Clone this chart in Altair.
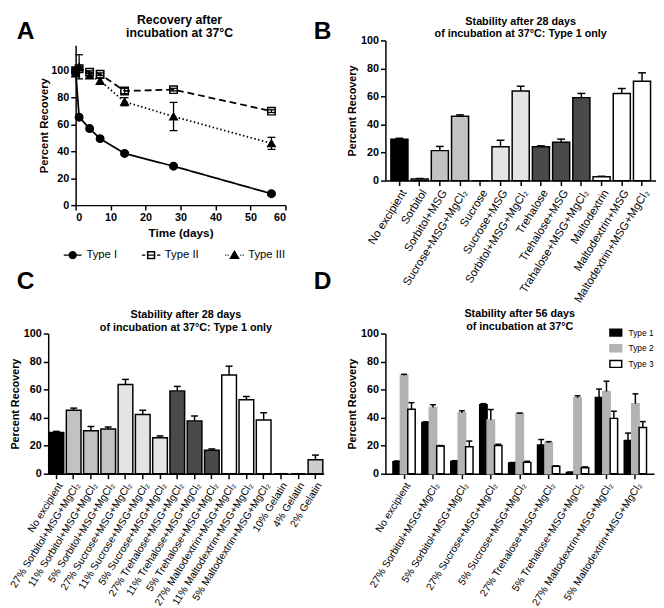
import altair as alt
import pandas as pd

FONT = "Liberation Sans"

# ---------------- Panel A data ----------------
days = [0, 1, 4, 7, 14, 28, 56]
series_a = ["Type I", "Type II", "Type III"]
type1_mean = [100, 65.5, 57, 49.5, 38.5, 29, 8.5]
type1_err = [1, 1, 1, 1, 1, 1, 1]
type2_mean = [100, 101.5, 99, 97.5, 85, 86, 70]
type2_err = [1.5, 1.5, 1, 1, 2, 1, 1]
type3_mean = [98, 103, 96.5, 92.5, 77, 66, 46]
type3_err = [2, 9, 2, 2, 3, 10.5, 4.5]

# ---------------- Panel B data ----------------
b_labels = ["No excipient", "Sorbitol", "Sorbitol+MSG", "Sucrose+MSG+MgCl₂", "Sucrose",
            "Sucrose+MSG", "Sorbitol+MSG+MgCl₂", "Trehalose", "Trehalose+MSG",
            "Trahalose+MSG+MgCl₂", "Maltodextrin", "Maltodextrin+MSG", "Maltodextrin+MSG+MgCl₂"]
b_values = [29.5, 1.2, 21.4, 45.9, 0, 24.2, 64, 24.2, 27.3, 59.2, 2.8, 62.2, 70.9]
b_errors = [0.7, 0.3, 3, 1, 0, 4.6, 3.3, 0.6, 2.3, 3, 0.3, 3.5, 6]
b_group = ["None", "Sorbitol", "Sorbitol", "Sorbitol", "Sucrose", "Sucrose", "Sucrose",
           "Trehalose", "Trehalose", "Trehalose", "Maltodextrin", "Maltodextrin", "Maltodextrin"]

# ---------------- Panel C data ----------------
c_labels = ["No excipient", "27% Sorbitol+MSG+MgCl₂", "11% Sorbitol+MSG+MgCl₂", "5% Sorbitol+MSG+MgCl₂",
            "27% Sucrose+MSG+MgCl₂", "11% Sucrose+MSG+MgCl₂", "5% Sucrose+MSG+MgCl₂",
            "27% Trehalose+MSG+MgCl₂", "11% Trehalose+MSG+MgCl₂", "5% Trehalose+MSG+MgCl₂",
            "27% Maltodextrin+MSG+MgCl₂", "11% Maltodextrin+MSG+MgCl₂", "5% Maltodextrin+MSG+MgCl₂",
            "10% Gelatin", "4% Gelatin", "2% Gelatin"]
c_values = [29.5, 45.3, 30.7, 31.9, 63.7, 42.3, 25.6, 59.1, 37.7, 16.7, 70.5, 52.8, 38.4, 0, 0, 10]
c_errors = [0.7, 1.5, 3, 1.4, 3.6, 3, 1.4, 3.2, 3.5, 1, 6.2, 2.3, 5.1, 0, 0, 3.3]
c_group = ["None", "Sorbitol", "Sorbitol", "Sorbitol", "Sucrose", "Sucrose", "Sucrose",
           "Trehalose", "Trehalose", "Trehalose", "Maltodextrin", "Maltodextrin", "Maltodextrin",
           "Gelatin", "Gelatin", "Gelatin"]

# ---------------- Panel D data ----------------
d_labels = ["No excipient", "27% Sorbitol+MSG+MgCl₂", "5% Sorbitol+MSG+MgCl₂",
            "27% Sucrose+MSG+MgCl₂", "5% Sucrose+MSG+MgCl₂", "27% Trehalose+MSG+MgCl₂",
            "5% Trehalose+MSG+MgCl₂", "27% Maltodextrin+MSG+MgCl₂", "5% Maltodextrin+MSG+MgCl₂"]
d_types = ["Type 1", "Type 2", "Type 3"]
d_type1 = [8.6, 36.5, 8.8, 49.3, 7.7, 20.5, 0.9, 54.4, 23.7]
d_type1_err = [0.5, 0.5, 0.5, 0.7, 0.3, 3.9, 0.3, 6, 5.3]
d_type2 = [70.2, 47.2, 43.5, 38.4, 43, 22.1, 54.2, 58.6, 50]
d_type2_err = [0.7, 2, 1.4, 7.4, 0.3, 0.8, 1.4, 7.4, 7]
d_type3 = [46, 19.8, 19.3, 20.2, 8.1, 5.3, 4.2, 39.5, 33]
d_type3_err = [4.7, 0.3, 4, 0.8, 0.8, 0.3, 0.7, 5.1, 4.2]

panel_letters = ["A", "B", "C", "D"]

groups = ["None", "Sorbitol", "Sucrose", "Trehalose", "Maltodextrin", "Gelatin"]
group_fill = ["#000000", "#c2c2c2", "#e4e4e4", "#4a4a4a", "#ffffff", "#cdcdcd"]

# ---------------- tables ----------------
rows = []
for name, means, errs in zip(series_a, [type1_mean, type2_mean, type3_mean],
                             [type1_err, type2_err, type3_err]):
    for d, m, e in zip(days, means, errs):
        rows.append({"series": name, "day": d, "mean": m, "lo": m - e, "hi": m + e})
dfA = pd.DataFrame(rows)

dfB = pd.DataFrame({"label": b_labels, "value": b_values, "err": b_errors, "group": b_group})
dfB["top"] = dfB["value"] + dfB["err"]
dfC = pd.DataFrame({"label": c_labels, "value": c_values, "err": c_errors, "group": c_group})
dfC["top"] = dfC["value"] + dfC["err"]

rows = []
for t, vals, errs in zip(d_types, [d_type1, d_type2, d_type3], [d_type1_err, d_type2_err, d_type3_err]):
    for lab, v, e in zip(d_labels, vals, errs):
        rows.append({"label": lab, "type": t, "value": v, "err": e, "top": v + e})
dfD = pd.DataFrame(rows)

# ---------------- Panel A ----------------
A_W, A_H = 242, 168
xA_scale = alt.Scale(domain=[0, 60], range=[28, 242], nice=False)
yA_scale = alt.Scale(domain=[0, 119], range=[168, 5], nice=False)
xA_axis = alt.Axis(values=[0, 10, 20, 30, 40, 50, 60], title="Time (days)", titleFontSize=12,
                   titlePadding=5)
yA_axis = alt.Axis(values=[0, 20, 40, 60, 80, 100], title="Percent Recovery", offset=-28,
                   titlePadding=1, titleFontSize=11.5)


def xA():
    return alt.X("day:Q", scale=xA_scale, axis=xA_axis)


def yA(field):
    return alt.Y(field, scale=yA_scale, axis=yA_axis)


baseA = alt.Chart(dfA)
linesA = baseA.mark_line(color="black", strokeWidth=1.8).encode(
    x=xA(), y=yA("mean:Q"), detail="series:N",
    strokeDash=alt.StrokeDash("series:N", scale=alt.Scale(domain=series_a, range=[[1, 0], [7, 4], [1.5, 2.5]]),
                              legend=None),
)
errA = baseA.mark_rule(color="black", strokeWidth=1.3).encode(x=xA(), y=yA("lo:Q"), y2="hi:Q")
capLoA = baseA.mark_tick(orient="horizontal", size=8, thickness=1.3, color="black", opacity=1).encode(
    x=xA(), y=yA("lo:Q"))
capHiA = baseA.mark_tick(orient="horizontal", size=8, thickness=1.3, color="black", opacity=1).encode(
    x=xA(), y=yA("hi:Q"))

point_shapes = ["circle", "square", "triangle-up"]
point_fills = ["black", "transparent", "black"]
point_layers = []
for name, shp, fil in zip(series_a, point_shapes, point_fills):
    point_layers.append(
        baseA.transform_filter(alt.datum.series == name).mark_point(
            shape=shp, fill=fil, opacity=1, fillOpacity=1, stroke="black", strokeWidth=1.5, size=58
        ).encode(x=xA(), y=yA("mean:Q"))
    )

# legend symbols: a short line segment (solid / dashed / dotted) with the marker in its middle
legend_paths = [
    "M-1.3,0H1.3M0.5,0L0.433,0.25L0.25,0.433L0,0.5L-0.25,0.433L-0.433,0.25L-0.5,0L-0.433,-0.25"
    "L-0.25,-0.433L0,-0.5L0.25,-0.433L0.433,-0.25Z",
    "M-1.35,0H-0.85M-0.5,0H0.5M0.85,0H1.35M-0.5,-0.5H0.5V0.5H-0.5Z",
    "M-1.35,0H-1.2M-1.0,0H-0.85M0.85,0H1.0M1.2,0H1.35M0,-0.55L0.58,0.45L-0.58,0.45Z",
]
legend_x = [17, 97, 182]

# one single-entry legend per series (same mechanism as the legend of panel D);
# the layers carry no marks, only the legend entries
legend_layers = []
for i, name in enumerate(series_a):
    lg = alt.Legend(orient="none", legendX=legend_x[i], legendY=211, title=None, labelFont=FONT,
                    labelFontSize=11.5, labelOffset=6, symbolType=legend_paths[i], symbolSize=196,
                    symbolStrokeWidth=1.5, padding=0, labelColor="black")
    legend_layers.append(
        baseA.transform_filter("false").mark_point(opacity=1, strokeWidth=1.5).encode(
            x=xA(), y=yA("mean:Q"),
            fill=alt.Fill("series:N", scale=alt.Scale(domain=[name], range=[point_fills[i]]), legend=lg),
            stroke=alt.Stroke("series:N", scale=alt.Scale(domain=[name], range=["black"]), legend=lg),
        )
    )


def letter(i, x, y):
    return alt.Chart(pd.DataFrame({"t": [panel_letters[i]]})).mark_text(
        font=FONT, fontSize=25, fontWeight="bold", align="left", baseline="alphabetic", color="black"
    ).encode(text="t:N", x=alt.value(x), y=alt.value(y))


chartA = alt.layer(
    linesA, errA, capLoA, capHiA, *point_layers, *legend_layers,
    letter(0, -32, -1), letter(1, 271, -1), letter(2, -32, 254), letter(3, 271, 254),
).resolve_scale(fill="independent", stroke="independent").resolve_legend(
    fill="independent", stroke="independent"
).properties(
    width=A_W, height=A_H,
    title=alt.TitleParams(["Recovery after", "incubation at 37°C"], fontSize=12.5, lineHeight=13.5, dx=13,
                          dy=22, offset=2, anchor="middle", frame="group"),
)

# ---------------- bar helpers ----------------
yBar_axis = alt.Axis(values=[0, 20, 40, 60, 80, 100], title="Percent Recovery", titlePadding=3)
yBar_scale = alt.Scale(domain=[0, 100], nice=False)


def yBar(field):
    return alt.Y(field, scale=yBar_scale, axis=yBar_axis)


def cat_axis(size=10.5):
    return alt.Axis(title=None, labelAngle=-58, labelAlign="right", labelBaseline="top",
                    labelFontWeight="normal", labelFontSize=size, labelPadding=2)


fill_scale = alt.Scale(domain=groups, range=group_fill)


def simple_bars(df, labels, pin, pout, cap, W, title, label_size):
    xe = alt.X("label:N", sort=labels, scale=alt.Scale(paddingInner=pin, paddingOuter=pout),
               axis=cat_axis(label_size))
    base = alt.Chart(df)
    bars = base.mark_bar(stroke="black", strokeWidth=1.5).encode(
        x=xe, y=yBar("value:Q"), fill=alt.Fill("group:N", scale=fill_scale, legend=None))
    err = base.transform_filter("datum.err > 0").mark_rule(color="black", strokeWidth=1.5).encode(
        x=xe, y=yBar("value:Q"), y2="top:Q")
    caps = base.transform_filter("datum.err > 0").mark_tick(
        orient="horizontal", size=cap, thickness=1.5, color="black", opacity=1).encode(x=xe, y=yBar("top:Q"))
    return alt.layer(bars, err, caps).properties(
        width=W, height=143, title=alt.TitleParams(title, offset=3, dy=8, anchor="middle", frame="group"))


chartB = simple_bars(dfB, b_labels, 0.155, 0.27, 8, 276,
                     ["Stability after 28 days", "of incubation at 37°C: Type 1 only"], 11.5)
chartC = simple_bars(dfC, c_labels, 0.15, 0.05, 7, 281,
                     ["Stability after 28 days", "of incubation at 37°C: Type 1 only"], 10.5)

# ---------------- Panel D ----------------
xD = alt.X("label:N", sort=d_labels, scale=alt.Scale(paddingInner=0.23, paddingOuter=0.26), axis=cat_axis())
xoD = alt.XOffset("type:N", sort=d_types, scale=alt.Scale(paddingInner=0, paddingOuter=0))
legD = alt.Legend(orient="none", legendX=229, legendY=-7, title=None, labelFont=FONT, labelFontSize=8.5,
                  labelOffset=7, rowPadding=2, symbolType="M-1.2,-0.7H1.2V0.7H-1.2Z", symbolSize=100,
                  symbolStrokeWidth=1.5, padding=0, labelColor="black")
baseD = alt.Chart(dfD)
barsD = baseD.mark_bar(strokeWidth=1.5).encode(
    x=xD, xOffset=xoD, y=yBar("value:Q"),
    fill=alt.Fill("type:N", scale=alt.Scale(domain=d_types, range=["black", "#b3b3b3", "white"]), legend=legD),
    stroke=alt.Stroke("type:N", scale=alt.Scale(domain=d_types, range=["black", "#b3b3b3", "black"]),
                      legend=legD),
)
errD = baseD.mark_rule(color="black", strokeWidth=1.5).encode(x=xD, xOffset=xoD, y=yBar("value:Q"), y2="top:Q")
capD = baseD.mark_tick(orient="horizontal", size=6, thickness=1.5, color="black", opacity=1).encode(
    x=xD, xOffset=xoD, y=yBar("top:Q"))
chartD = alt.layer(barsD, errD, capD).properties(
    width=274, height=143,
    title=alt.TitleParams(["Stability after 56 days", "of incubation at 37°C"], offset=3, dy=8, anchor="middle",
                          frame="group"))

chart = alt.concat(
    chartA, chartB, chartC, chartD, columns=2, align="each",
    spacing={"row": 3, "column": 14}, padding=0,
).resolve_scale(
    fill="independent", stroke="independent", shape="independent", strokeDash="independent",
    x="independent", y="independent", xOffset="independent",
).resolve_legend(
    fill="independent", stroke="independent", shape="independent", strokeDash="independent",
).configure_view(stroke=None).configure_axis(
    domainColor="black", domainWidth=1.5, tickColor="black", tickWidth=1.5, tickSize=5,
    labelColor="black", titleColor="black", labelFont=FONT, titleFont=FONT, labelFontSize=11,
    labelFontWeight="bold", titleFontSize=11, titleFontWeight="bold", grid=False, labelPadding=2,
).configure_title(font=FONT, fontSize=11, fontWeight="bold", color="black", lineHeight=12.5).configure_legend(
    labelFont=FONT, labelColor="black"
)

chart.save("out.html", embed_options={"renderer": "svg", "actions": False})
